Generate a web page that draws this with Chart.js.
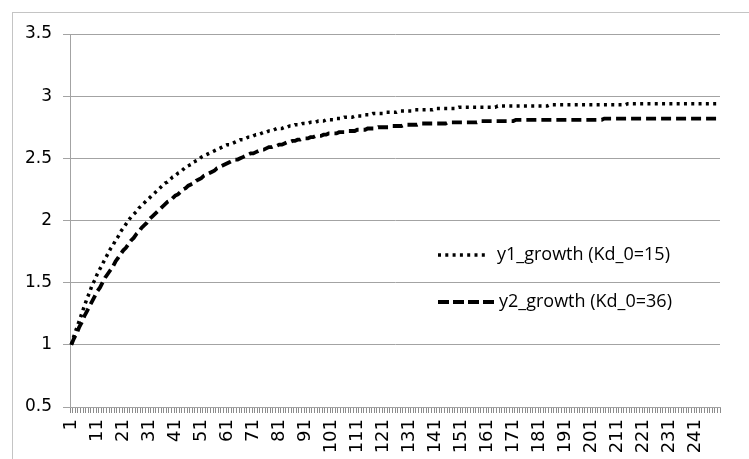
<!DOCTYPE html>
<html>
<head>
<meta charset="utf-8">
<script src="https://cdn.jsdelivr.net/npm/chart.js@4.4.0/dist/chart.umd.min.js"></script>
<style>
  html, body { margin: 0; padding: 0; background: #fff; overflow: hidden; }
  #wrap { position: relative; width: 749px; height: 459px; overflow: hidden; }
  #frame { position: absolute; left: 12px; top: 12px; width: 760px; height: 470px; border: 1px solid #c4c4c4; }
  #myChart { position: absolute; left: 0; top: 0; }
</style>
</head>
<body>
<div id="wrap">
  <div id="frame"></div>
  <canvas id="myChart" width="749" height="459"></canvas>
</div>
<script>
'use strict';

// x categories are the steps 1..250, only every 10th one is labelled
var categories = [];
for (var i = 1; i <= 250; i++) { categories.push(String(i)); }
var xTickLabels = ['1','11','21','31','41','51','61','71','81','91','101','111','121',
  '131','141','151','161','171','181','191','201','211','221','231','241'];
var yTickLabels = ['0.5','1','1.5','2','2.5','3','3.5'];

var seriesNames = ['y1_growth (Kd_0=15)', 'y2_growth (Kd_0=36)'];

// values
var y1Growth = [
  1.00,1.07,1.13,1.19,1.25,1.31,1.37,1.42,1.48,1.52,
  1.57,1.61,1.65,1.69,1.73,1.77,1.80,1.84,1.87,1.91,
  1.94,1.97,2.00,2.03,2.05,2.07,2.10,2.12,2.14,2.16,
  2.18,2.20,2.22,2.24,2.26,2.28,2.30,2.31,2.33,2.35,
  2.36,2.38,2.39,2.41,2.43,2.44,2.45,2.47,2.48,2.49,
  2.51,2.52,2.53,2.54,2.55,2.56,2.57,2.58,2.59,2.60,
  2.61,2.61,2.62,2.63,2.64,2.65,2.65,2.66,2.67,2.67,
  2.68,2.69,2.69,2.70,2.71,2.71,2.72,2.72,2.73,2.74,
  2.74,2.74,2.75,2.75,2.76,2.76,2.77,2.77,2.77,2.78,
  2.78,2.78,2.79,2.79,2.79,2.80,2.80,2.80,2.81,2.81,
  2.81,2.81,2.82,2.82,2.82,2.83,2.83,2.83,2.83,2.84,
  2.84,2.84,2.84,2.85,2.85,2.85,2.86,2.86,2.86,2.86,
  2.86,2.87,2.87,2.87,2.87,2.87,2.88,2.88,2.88,2.88,
  2.88,2.88,2.89,2.89,2.89,2.89,2.89,2.89,2.89,2.89,
  2.90,2.90,2.90,2.90,2.90,2.90,2.90,2.90,2.90,2.91,
  2.91,2.91,2.91,2.91,2.91,2.91,2.91,2.91,2.91,2.91,
  2.91,2.91,2.91,2.91,2.92,2.92,2.92,2.92,2.92,2.92,
  2.92,2.92,2.92,2.92,2.92,2.92,2.92,2.92,2.92,2.92,
  2.92,2.92,2.92,2.92,2.93,2.93,2.93,2.93,2.93,2.93,
  2.93,2.93,2.93,2.93,2.93,2.93,2.93,2.93,2.93,2.93,
  2.93,2.93,2.93,2.93,2.93,2.93,2.93,2.93,2.93,2.93,
  2.93,2.93,2.93,2.93,2.94,2.94,2.94,2.94,2.94,2.94,
  2.94,2.94,2.94,2.94,2.94,2.94,2.94,2.94,2.94,2.94,
  2.94,2.94,2.94,2.94,2.94,2.94,2.94,2.94,2.94,2.94,
  2.94,2.94,2.94,2.94,2.94,2.94,2.94,2.94,2.94,2.94
];
var y2Growth = [
  1.00,1.05,1.09,1.14,1.18,1.23,1.27,1.31,1.35,1.39,
  1.43,1.46,1.50,1.54,1.57,1.60,1.63,1.67,1.70,1.73,
  1.76,1.78,1.81,1.84,1.86,1.89,1.91,1.94,1.96,1.98,
  2.01,2.03,2.05,2.07,2.09,2.11,2.13,2.15,2.16,2.18,
  2.20,2.21,2.23,2.25,2.26,2.28,2.29,2.30,2.32,2.33,
  2.34,2.36,2.37,2.38,2.39,2.40,2.42,2.43,2.44,2.45,
  2.46,2.47,2.48,2.49,2.49,2.50,2.51,2.52,2.53,2.54,
  2.54,2.55,2.56,2.57,2.57,2.58,2.59,2.59,2.60,2.60,
  2.61,2.61,2.62,2.63,2.63,2.64,2.64,2.65,2.65,2.66,
  2.66,2.66,2.67,2.67,2.68,2.68,2.68,2.69,2.69,2.70,
  2.70,2.70,2.70,2.71,2.71,2.71,2.72,2.72,2.72,2.72,
  2.73,2.73,2.73,2.73,2.74,2.74,2.74,2.74,2.75,2.75,
  2.75,2.75,2.75,2.76,2.76,2.76,2.76,2.76,2.77,2.77,
  2.77,2.77,2.77,2.77,2.78,2.78,2.78,2.78,2.78,2.78,
  2.78,2.78,2.78,2.78,2.78,2.79,2.79,2.79,2.79,2.79,
  2.79,2.79,2.79,2.79,2.79,2.79,2.79,2.80,2.80,2.80,
  2.80,2.80,2.80,2.80,2.80,2.80,2.80,2.80,2.80,2.80,
  2.80,2.81,2.81,2.81,2.81,2.81,2.81,2.81,2.81,2.81,
  2.81,2.81,2.81,2.81,2.81,2.81,2.81,2.81,2.81,2.81,
  2.81,2.81,2.81,2.81,2.81,2.81,2.81,2.81,2.81,2.81,
  2.81,2.81,2.81,2.81,2.81,2.82,2.82,2.82,2.82,2.82,
  2.82,2.82,2.82,2.82,2.82,2.82,2.82,2.82,2.82,2.82,
  2.82,2.82,2.82,2.82,2.82,2.82,2.82,2.82,2.82,2.82,
  2.82,2.82,2.82,2.82,2.82,2.82,2.82,2.82,2.82,2.82,
  2.82,2.82,2.82,2.82,2.82,2.82,2.82,2.82,2.82,2.82
];

var gridGrey = '#a3a3a3';

// legend sits inside the plot, drawn by hand like excel does it
var insideLegend = {
  id: 'insideLegend',
  afterDraw: function(chart, args, opts) {
    var c = chart.ctx;
    c.save();
    chart.data.datasets.forEach(function(ds, k) {
      var y = opts.rows[k];
      c.beginPath();
      c.strokeStyle = ds.borderColor;
      c.lineWidth = ds.borderWidth;
      c.setLineDash(ds.legendDash || ds.borderDash);
      c.moveTo(opts.x, y);
      c.lineTo(opts.x + opts.sample[k], y);
      c.stroke();
      c.setLineDash([]);
      c.fillStyle = '#000';
      c.font = opts.font;
      c.textBaseline = 'middle';
      c.fillText(ds.label, opts.textX[k], y);
    });
    c.restore();
  }
};

var ctx = document.getElementById('myChart');
var myLineChart = new Chart(ctx, {
  type: 'line',
  data: {
    labels: categories,
    datasets: [
      {
        label: seriesNames[0],
        data: y1Growth,
        borderColor: '#000',
        borderWidth: 3.5,
        borderDash: [3, 4.3],
        borderCapStyle: 'butt',
        pointRadius: 0,
        tension: 0,
        fill: false
      },
      {
        label: seriesNames[1],
        data: y2Growth,
        borderColor: '#000',
        borderWidth: 3.8,
        borderDash: [10, 5],
        legendDash: [11, 4],
        borderCapStyle: 'butt',
        pointRadius: 0,
        tension: 0,
        fill: false
      }
    ]
  },
  options: {
    responsive: false,
    animation: false,
    devicePixelRatio: 1,
    layout: { padding: { left: 0, right: 29, top: 34, bottom: 0 } },
    plugins: {
      legend: { display: false },
      tooltip: { enabled: false },
      insideLegend: {
        x: 438,
        sample: [50, 57],
        textX: [497, 499],
        rows: [255, 302],
        font: '18px "Open Sans"'
      }
    },
    scales: {
      x: {
        type: 'category',
        offset: true,
        afterFit: function(scale) { scale.height = 52; },
        grid: {
          offset: true,
          drawOnChartArea: false,
          drawTicks: true,
          tickLength: 6,
          color: '#8c8c8c'
        },
        border: { color: gridGrey },
        ticks: {
          autoSkip: false,
          minRotation: 90,
          maxRotation: 90,
          padding: 6,
          color: '#000',
          font: { family: '"DejaVu Sans"', size: 18 },
          callback: function(val, idx) {
            var lab = this.getLabelForValue(val);
            return xTickLabels.indexOf(lab) >= 0 ? lab : '';
          }
        }
      },
      y: {
        min: 0.5,
        max: 3.5,
        afterFit: function(scale) { scale.width = 70; },
        grid: { color: gridGrey, tickLength: 7 },
        border: { color: gridGrey },
        ticks: {
          stepSize: 0.5,
          padding: 11,
          color: '#000',
          font: { family: '"DejaVu Sans"', size: 17 },
          callback: function(val, idx) { return yTickLabels[idx]; }
        }
      }
    }
  },
  plugins: [insideLegend]
});
</script>
</body>
</html>
